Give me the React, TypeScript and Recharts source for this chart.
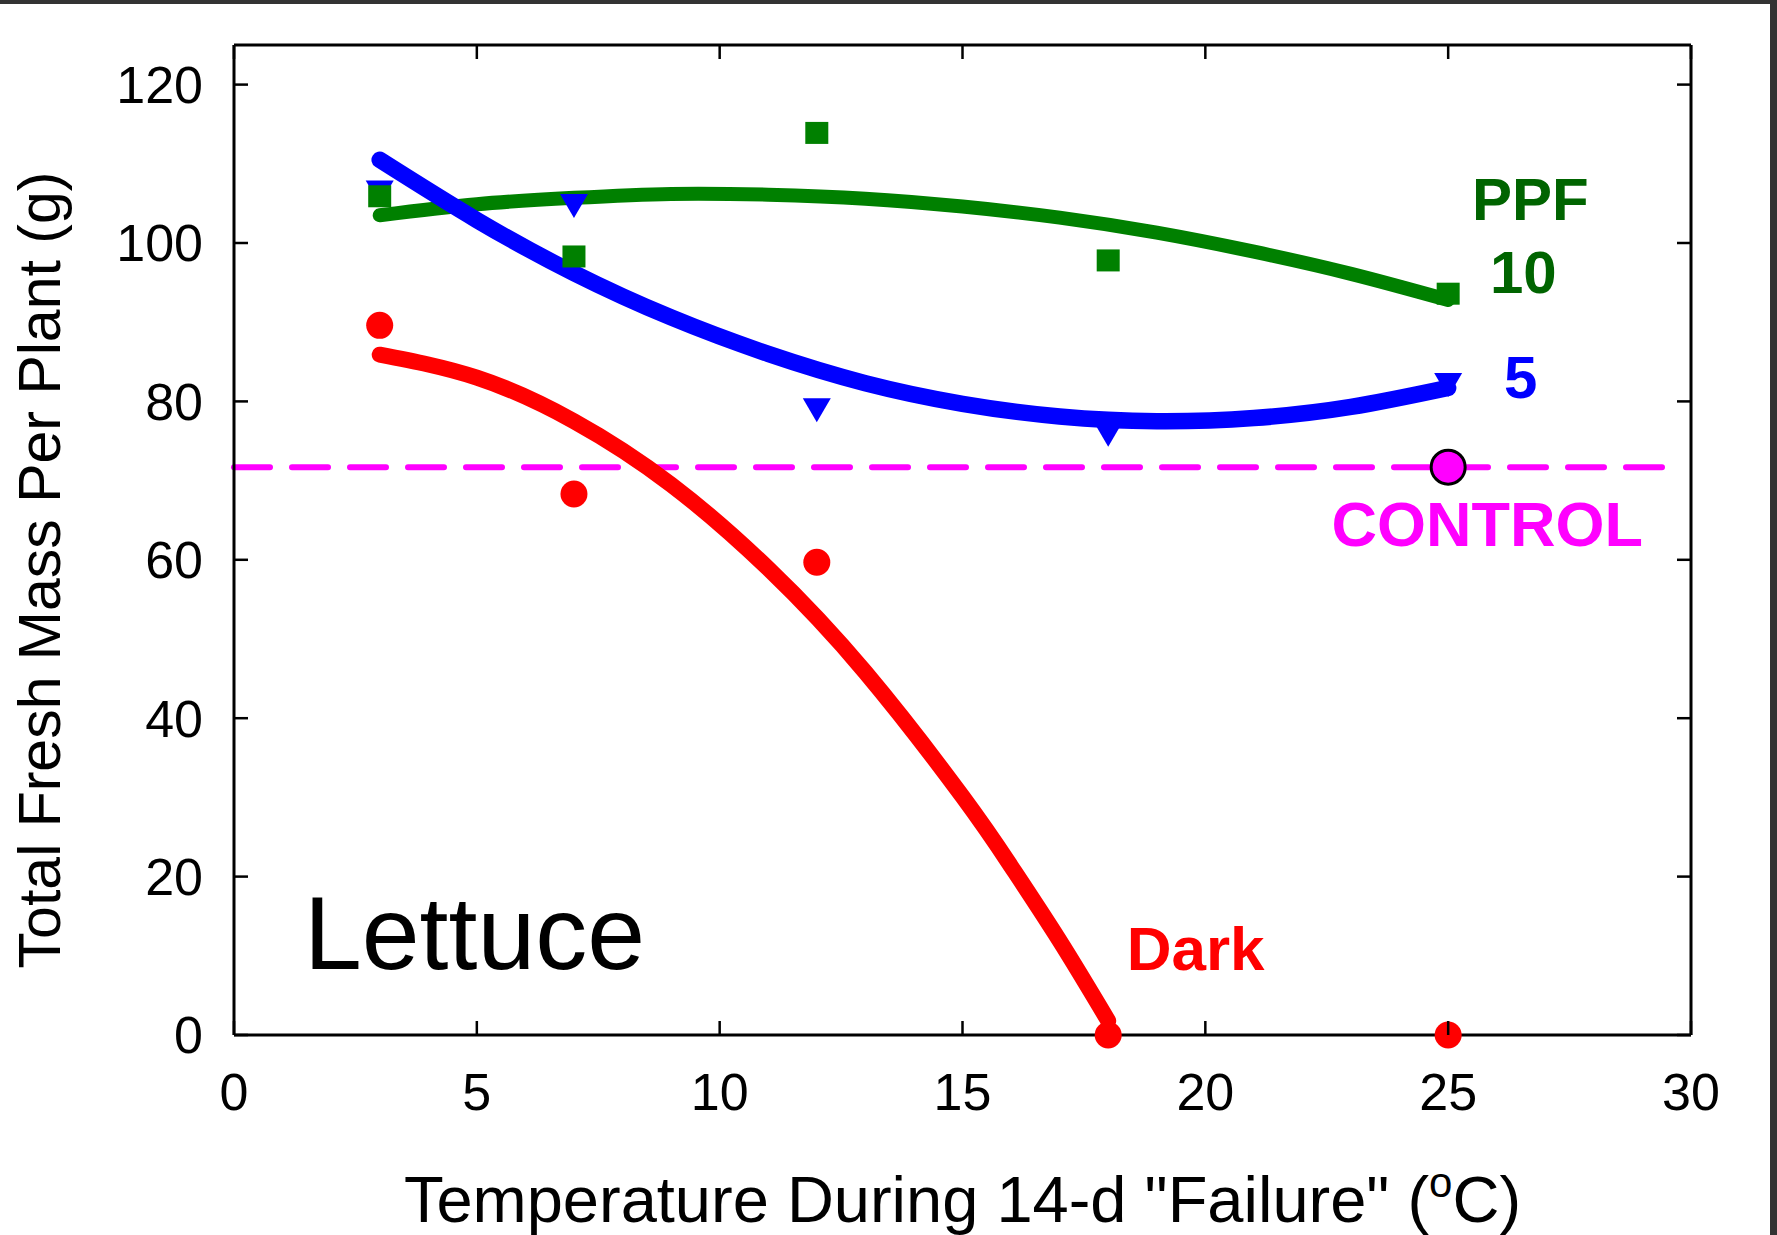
import React from "react";
import {
  ComposedChart,
  Line,
  Scatter,
  XAxis,
  YAxis,
  ReferenceLine,
  ReferenceDot,
} from "recharts";

// measured points
const temps = [3, 7, 12, 18, 25];
const ppf10Mass = [105.9, 98.3, 113.9, 97.8, 93.6];
const ppf5Mass = [106.5, 104.8, 79.0, 75.9, 82.2];
const darkMass = [89.6, 68.3, 59.7, 0, 0];
const controlTemp = [25];
const controlMass = [71.7];

// fitted curves
const fitTemps = [3, 5, 7, 9, 11, 13, 15, 17, 19, 21, 23, 25];
const ppf10Fit = [103.5, 104.9, 105.7, 106.2, 106.1, 105.6, 104.6, 103.2, 101.3, 98.9, 96.1, 92.8];
const ppf5Fit = [110.5, 102.9, 96.2, 90.6, 86.0, 82.3, 79.7, 78.1, 77.5, 77.9, 79.3, 81.7];
const darkFitTemps = [3, 5, 7, 9, 11, 13, 15, 16, 17, 18];
const darkFit = [85.9, 83.0, 77.5, 69.5, 58.9, 45.8, 30.1, 21.3, 11.9, 1.8];

const xTicks = [0, 5, 10, 15, 20, 25, 30];
const yTicks = [0, 20, 40, 60, 80, 100, 120];
const X_MAX = 30;
const Y_MAX = 125;
const CONTROL_LINE_END = 29.7;

const FONT = '"Liberation Sans", Arial, Helvetica, sans-serif';
const GREEN = "#008000";
const DARK_GREEN = "#006400";
const BLUE = "#0000FF";
const RED = "#FF0000";
const MAGENTA = "#FF00FF";

// plot box size (chart 1777x1235 minus margins/axis space)
const PLOT_W = 1777 - 234 - 86;
const PLOT_H = 1235 - 45 - 200;
const TICK = 14;

const zip = (xs: number[], ys: number[]) => xs.map((x, i) => ({ x, y: ys[i] }));

const ppf10Points = zip(temps, ppf10Mass);
const ppf5Points = zip(temps, ppf5Mass);
const darkPoints = zip(temps, darkMass);
const controlPoints = zip(controlTemp, controlMass);
const ppf10Line = zip(fitTemps, ppf10Fit);
const ppf5Line = zip(fitTemps, ppf5Fit);
const darkLine = zip(darkFitTemps, darkFit);

const Square = (p: any) => (
  <rect x={p.cx - 11.5} y={p.cy - 11} width={23} height={22} fill={GREEN} />
);
const TriangleDown = (p: any) => (
  <polygon
    points={`${p.cx - 14},${p.cy - 11} ${p.cx + 14},${p.cy - 11} ${p.cx},${p.cy + 13}`}
    fill={BLUE}
  />
);
const RedDot = (p: any) => <circle cx={p.cx} cy={p.cy} r={13.5} fill={RED} />;
const ControlDot = (p: any) => (
  <circle cx={p.cx} cy={p.cy} r={17} fill={MAGENTA} stroke="#000" strokeWidth={3} />
);

const note = (text: string, color: string, size: number, bold = true) => (p: any) => (
  <text
    x={p.cx}
    y={p.cy}
    fill={color}
    fontSize={size}
    fontWeight={bold ? "bold" : "normal"}
    fontFamily={FONT}
    textAnchor="start"
  >
    {text}
  </text>
);

// ticks drawn inward on both the main and the mirrored side
const BottomTick = (p: any) => (
  <g>
    <line x1={p.x} y1={p.y} x2={p.x} y2={p.y - TICK} stroke="#000" strokeWidth={2.5} />
    <line x1={p.x} y1={p.y - PLOT_H} x2={p.x} y2={p.y - PLOT_H + TICK} stroke="#000" strokeWidth={2.5} />
    <text x={p.x} y={p.y + 38} dy="0.71em" textAnchor="middle" fontSize={52} fontFamily={FONT} fill="#000">
      {p.payload.value}
    </text>
  </g>
);

const LeftTick = (p: any) => (
  <g>
    <line x1={p.x} y1={p.y} x2={p.x + TICK} y2={p.y} stroke="#000" strokeWidth={2.5} />
    <line x1={p.x + PLOT_W} y1={p.y} x2={p.x + PLOT_W - TICK} y2={p.y} stroke="#000" strokeWidth={2.5} />
    <text x={p.x - 31} y={p.y} dy="0.355em" textAnchor="end" fontSize={52} fontFamily={FONT} fill="#000">
      {p.payload.value}
    </text>
  </g>
);

const XTitle = (props: any) => {
  const vb = props.viewBox;
  return (
    <text
      x={vb.x + vb.width / 2}
      y={vb.y + 187}
      textAnchor="middle"
      fontSize={65}
      fontFamily={FONT}
      fill="#000"
    >
      Temperature During 14-d "Failure" (
      <tspan dy={-25} fontSize={42}>
        o
      </tspan>
      <tspan dy={25}>C)</tspan>
    </text>
  );
};

const YTitle = (props: any) => {
  const vb = props.viewBox;
  return (
    <text
      transform={`translate(60, ${vb.y + vb.height / 2 + 30}) rotate(-90)`}
      textAnchor="middle"
      fontSize={59}
      fontFamily={FONT}
      fill="#000"
    >
      Total Fresh Mass Per Plant (g)
    </text>
  );
};

const axisStyle = { stroke: "#000", strokeWidth: 3 };

export default function App() {
  return (
    <div
      style={{
        position: "absolute",
        left: 0,
        top: 0,
        width: 1777,
        height: 1235,
        background: "#fff",
        overflow: "hidden",
      }}
    >
      <ComposedChart
        width={1777}
        height={1235}
        margin={{ top: 45, right: 86, bottom: 0, left: 0 }}
      >
        <XAxis
          type="number"
          dataKey="x"
          domain={[0, X_MAX]}
          ticks={xTicks}
          height={200}
          axisLine={axisStyle}
          tickLine={false}
          tickSize={0}
          tickMargin={0}
          tick={BottomTick}
          interval={0}
          label={<XTitle />}
        />
        <YAxis
          type="number"
          domain={[0, Y_MAX]}
          ticks={yTicks}
          width={234}
          axisLine={axisStyle}
          tickLine={false}
          tickSize={0}
          tickMargin={0}
          tick={LeftTick}
          interval={0}
          label={<YTitle />}
        />

        {/* mirrored frame on top and right */}
        <ReferenceLine y={Y_MAX} stroke="#000" strokeWidth={3} />
        <ReferenceLine x={X_MAX} stroke="#000" strokeWidth={3} />

        <ReferenceLine
          segment={[
            { x: 0, y: controlMass[0] },
            { x: CONTROL_LINE_END, y: controlMass[0] },
          ]}
          stroke={MAGENTA}
          strokeWidth={6}
          strokeDasharray="36 22"
          strokeLinecap="round"
        />

        <Line
          data={ppf10Line}
          dataKey="y"
          type="natural"
          stroke={GREEN}
          strokeWidth={14}
          strokeLinecap="round"
          dot={false}
          activeDot={false}
          isAnimationActive={false}
        />
        <Line
          data={ppf5Line}
          dataKey="y"
          type="natural"
          stroke={BLUE}
          strokeWidth={16.5}
          strokeLinecap="round"
          dot={false}
          activeDot={false}
          isAnimationActive={false}
        />
        <Line
          data={darkLine}
          dataKey="y"
          type="natural"
          stroke={RED}
          strokeWidth={16}
          strokeLinecap="round"
          dot={false}
          activeDot={false}
          isAnimationActive={false}
        />

        <Scatter data={ppf5Points} dataKey="y" shape={TriangleDown} isAnimationActive={false} />
        <Scatter data={ppf10Points} dataKey="y" shape={Square} isAnimationActive={false} />
        <Scatter data={darkPoints} dataKey="y" shape={RedDot} isAnimationActive={false} />
        <Scatter data={controlPoints} dataKey="y" shape={ControlDot} isAnimationActive={false} />

        <ReferenceDot x={1.44} y={8.3} r={0} shape={note("Lettuce", "#000", 104, false)} />
        <ReferenceDot x={18.38} y={8.2} r={0} shape={note("Dark", RED, 62)} />
        <ReferenceDot x={25.49} y={102.9} r={0} shape={note("PPF", DARK_GREEN, 60)} />
        <ReferenceDot x={25.86} y={93.7} r={0} shape={note("10", DARK_GREEN, 60)} />
        <ReferenceDot x={26.15} y={80.4} r={0} shape={note("5", BLUE, 60)} />
        <ReferenceDot x={22.6} y={61.7} r={0} shape={note("CONTROL", MAGENTA, 63)} />
      </ComposedChart>
      <div style={{ position: "absolute", left: 0, top: 0, width: 1777, height: 4, background: "#333" }} />
      <div style={{ position: "absolute", right: 0, top: 0, width: 7, height: 1235, background: "#333" }} />
    </div>
  );
}
